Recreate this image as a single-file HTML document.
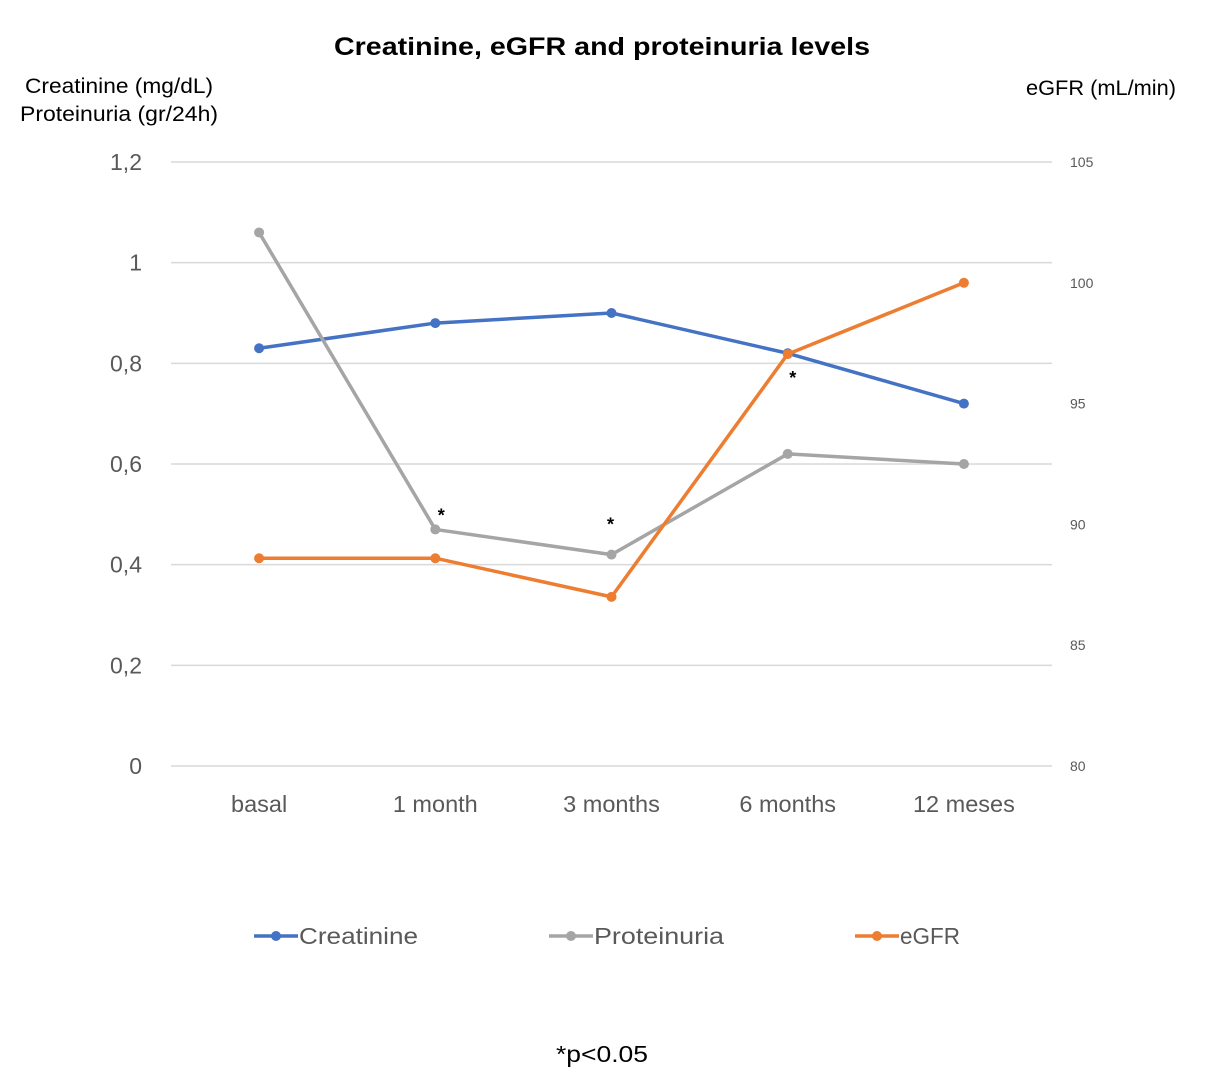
<!DOCTYPE html>
<html><head><meta charset="utf-8"><style>
html,body{margin:0;padding:0;background:#fff;}
svg{display:block;font-family:"Liberation Sans",sans-serif;}
</style></head><body>
<svg id="chart" width="1208" height="1082" xmlns="http://www.w3.org/2000/svg">
<text x="334" y="55" textLength="536" lengthAdjust="spacingAndGlyphs" font-size="25" font-weight="bold" fill="#000">Creatinine, eGFR and proteinuria levels</text>
<text x="25" y="93" textLength="188" lengthAdjust="spacingAndGlyphs" font-size="21" fill="#000">Creatinine (mg/dL)</text>
<text x="20" y="121" textLength="198" lengthAdjust="spacingAndGlyphs" font-size="21" fill="#000">Proteinuria (gr/24h)</text>
<text x="1026" y="95" textLength="150" lengthAdjust="spacingAndGlyphs" font-size="21" fill="#000">eGFR (mL/min)</text>
<g id="grid"></g><g id="series"></g>
<text x="556" y="1062" textLength="92" lengthAdjust="spacingAndGlyphs" font-size="23" fill="#000">*p&lt;0.05</text>
</svg>
<script>
const categories=["basal","1 month","3 months","6 months","12 meses"];
const creatinine=[0.83,0.88,0.90,0.82,0.72];
const proteinuria=[1.06,0.47,0.42,0.62,0.60];
const egfr=[88.6,88.6,87.0,97.05,100.0];
const leftTicks=["0","0,2","0,4","0,6","0,8","1","1,2"];
const leftTickValues=[0,0.2,0.4,0.6,0.8,1.0,1.2];
const rightTicks=[80,85,90,95,100,105];
const sigIndex=[1,2,3];

const NS="http://www.w3.org/2000/svg";
const x0=171,x1=1052,yTop=162,yBot=766;
const xs=i=>x0+(x1-x0)/categories.length*(i+0.5);
const yL=v=>yBot-(v/1.2)*(yBot-yTop);
const yR=v=>yBot-((v-80)/25)*(yBot-yTop);
function mk(t,a,p){const e=document.createElementNS(NS,t);for(const k in a)e.setAttribute(k,a[k]);p.appendChild(e);return e;}
const grid=document.getElementById('grid'),ser=document.getElementById('series'),svg=document.getElementById('chart');
leftTickValues.forEach((v,i)=>{
  const l=mk('line',{x1:x0,x2:x1,y1:yL(v),y2:yL(v),stroke:'#d9d9d9','stroke-width':1.5},grid);
  
  
  const t=mk('text',{x:142,y:yL(v)+8,'text-anchor':'end','font-size':23,fill:'#595959'},grid);
  t.textContent=leftTicks[i];
  
  
});
rightTicks.forEach(v=>{
  const t=mk('text',{x:1070,y:yR(v)+5,'font-size':14,fill:'#595959'},grid);
  t.textContent=v;
  
  
});
categories.forEach((c,i)=>{
  const t=mk('text',{x:xs(i),y:812,'text-anchor':'middle','font-size':23.5,fill:'#595959'},grid);
  t.textContent=c;
  
  
});
function series(vals,fy,color,name){
  const g=mk('g',{},ser);
  
  
  const pl=mk('polyline',{points:vals.map((v,i)=>xs(i)+','+fy(v)).join(' '),fill:'none',stroke:color,'stroke-width':3.5,'stroke-linejoin':'round'},g);
  
  
  vals.forEach((v,i)=>{
    const c=mk('circle',{cx:xs(i),cy:fy(v),r:5,fill:color},g);
    
    
  });
}
series(creatinine,yL,'#4472c4','creatinine');
series(proteinuria,yL,'#a5a5a5','proteinuria');
series(egfr,yR,'#ed7d31','egfr');
const sigY=[yL(proteinuria[1])-16,yL(proteinuria[2])-32,yR(egfr[3])+22];
const sigDx=[6,-1,5];
sigIndex.forEach((k,j)=>{
  const t=mk('text',{x:xs(k)+sigDx[j],y:sigY[j]+8,'text-anchor':'middle','font-size':18,'font-weight':'bold',fill:'#000'},ser);
  t.textContent='*';
  
  
});
const leg=[["Creatinine",'#4472c4',254,119],["Proteinuria",'#a5a5a5',549,130],["eGFR",'#ed7d31',855,60]];
leg.forEach(([n,c,x,w])=>{
  const g=mk('g',{},svg);
  
  
  mk('line',{x1:x,x2:x+44,y1:936,y2:936,stroke:c,'stroke-width':3.5},g);
  mk('circle',{cx:x+22,cy:936,r:5,fill:c},g);
  const t=mk('text',{x:x+45,y:944,'font-size':23,fill:'#595959',textLength:w,lengthAdjust:'spacingAndGlyphs'},g);
  t.textContent=n;
});
</script>
</body></html>
